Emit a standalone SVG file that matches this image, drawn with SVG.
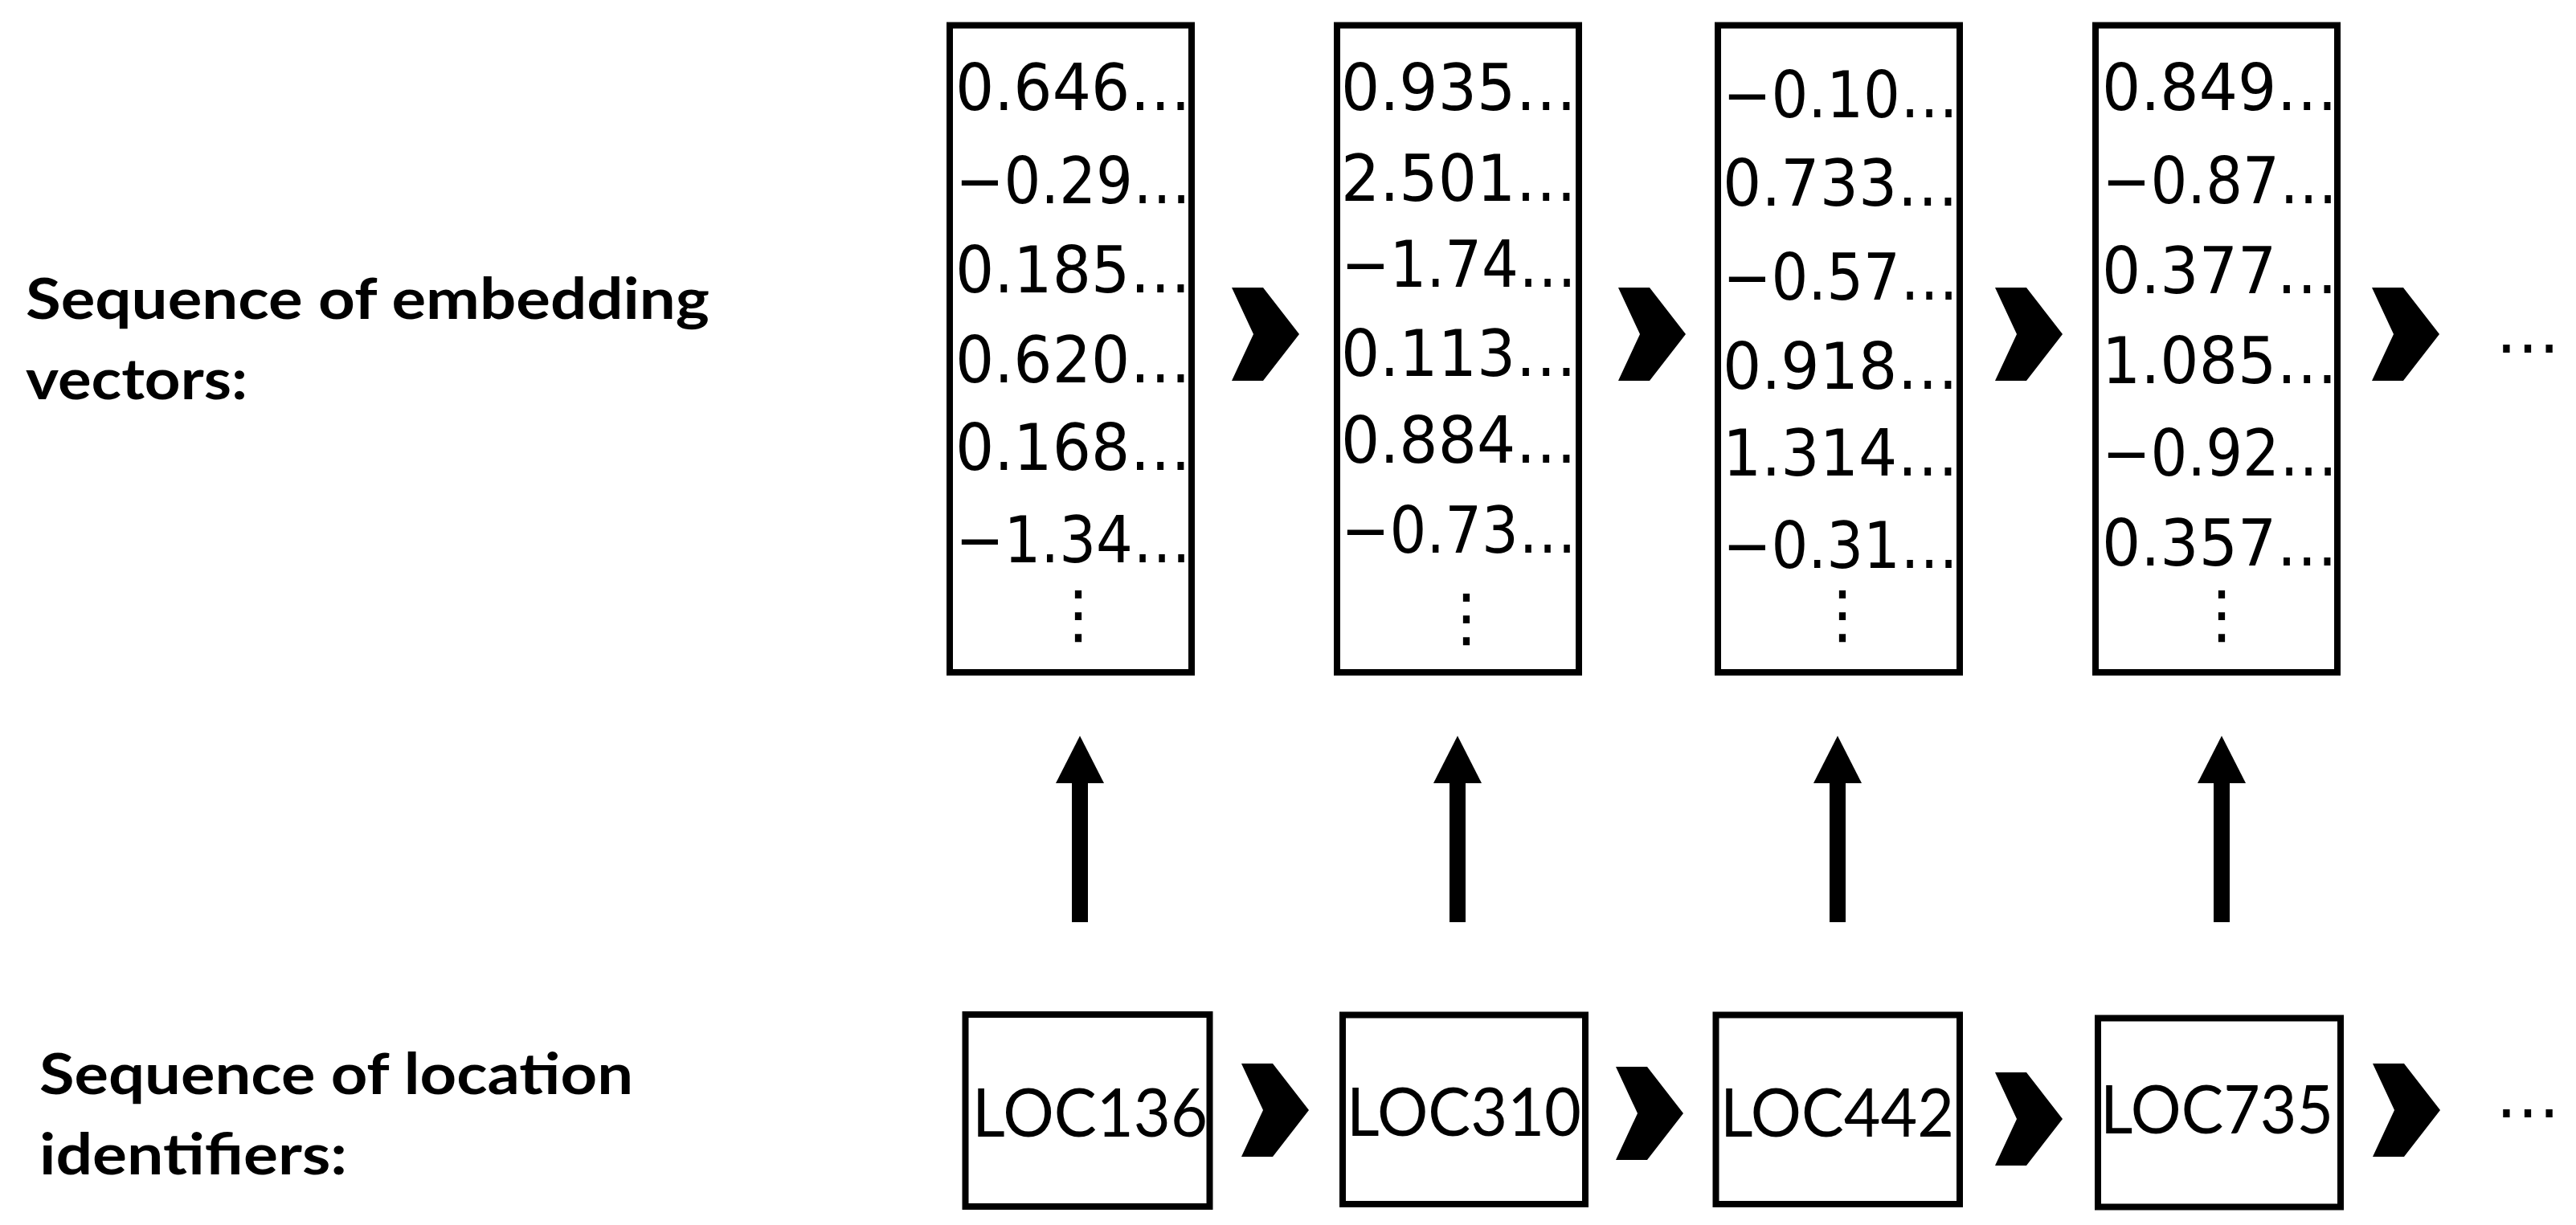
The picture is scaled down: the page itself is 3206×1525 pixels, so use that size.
<svg xmlns="http://www.w3.org/2000/svg" width="3206" height="1525" viewBox="0 0 3206 1525">
  <style>
    .box { fill: #ffffff; stroke: #000000; stroke-width: 8; }
    .val { font-family: "DejaVu Sans", "Liberation Sans", sans-serif; font-size: 80px; fill: #000000; }
    .vdots { font-family: "DejaVu Sans", sans-serif; font-size: 80px; fill: #000000; text-anchor: middle; }
    .loc { font-family: Lato, "Liberation Sans", sans-serif; font-size: 84px; fill: #000000; }
    .lbl { font-family: Lato, "Liberation Sans", sans-serif; font-size: 70px; font-weight: 700; fill: #000000; }
    .chev { fill: #000000; }
    .shaft { stroke: #000000; stroke-width: 20; }
  </style>
  <defs>
    <marker id="head" viewBox="0 0 59 60" markerWidth="59" markerHeight="60" refX="0" refY="30" orient="auto" markerUnits="userSpaceOnUse">
      <path d="M0,0 L59,30 L0,60 Z" fill="#000000"/>
    </marker>
    <polygon id="chevron" points="0,0 39,0 84,58 39,116 0,116 27,58"/>
  </defs>
  <rect x="0" y="0" width="3206" height="1525" fill="#ffffff"/>

  <g id="label-embeddings">
    <text class="lbl" x="32" y="397" textLength="851" lengthAdjust="spacingAndGlyphs">Sequence of embedding</text>
    <text class="lbl" x="32" y="497" textLength="276" lengthAdjust="spacingAndGlyphs">vectors:</text>
  </g>
  <g id="label-locations">
    <text class="lbl" x="49" y="1362" textLength="739" lengthAdjust="spacingAndGlyphs">Sequence of location</text>
    <text class="lbl" x="49" y="1462" textLength="383" lengthAdjust="spacingAndGlyphs">identifiers:</text>
  </g>

  <g id="vec1">
    <rect class="box" x="1182" y="31.5" width="301" height="805.5"/>
    <text class="val" x="1189" y="137" textLength="293" lengthAdjust="spacingAndGlyphs">0.646…</text>
    <text class="val" x="1189" y="253" textLength="293" lengthAdjust="spacingAndGlyphs">−0.29…</text>
    <text class="val" x="1189" y="364" textLength="293" lengthAdjust="spacingAndGlyphs">0.185…</text>
    <text class="val" x="1189" y="476" textLength="293" lengthAdjust="spacingAndGlyphs">0.620…</text>
    <text class="val" x="1189" y="585" textLength="293" lengthAdjust="spacingAndGlyphs">0.168…</text>
    <text class="val" x="1189" y="700" textLength="293" lengthAdjust="spacingAndGlyphs">−1.34…</text>
    <text class="vdots" x="1342" y="792">⋮</text>
  </g>
  <g id="vec2">
    <rect class="box" x="1664" y="31.5" width="301" height="805.5"/>
    <text class="val" x="1669" y="137" textLength="293" lengthAdjust="spacingAndGlyphs">0.935…</text>
    <text class="val" x="1669" y="250" textLength="293" lengthAdjust="spacingAndGlyphs">2.501…</text>
    <text class="val" x="1669" y="357" textLength="293" lengthAdjust="spacingAndGlyphs">−1.74…</text>
    <text class="val" x="1669" y="468" textLength="293" lengthAdjust="spacingAndGlyphs">0.113…</text>
    <text class="val" x="1669" y="576" textLength="293" lengthAdjust="spacingAndGlyphs">0.884…</text>
    <text class="val" x="1669" y="688" textLength="293" lengthAdjust="spacingAndGlyphs">−0.73…</text>
    <text class="vdots" x="1825" y="796">⋮</text>
  </g>
  <g id="vec3">
    <rect class="box" x="2138" y="31.5" width="301" height="805.5"/>
    <text class="val" x="2144" y="146" textLength="293" lengthAdjust="spacingAndGlyphs">−0.10…</text>
    <text class="val" x="2144" y="256" textLength="293" lengthAdjust="spacingAndGlyphs">0.733…</text>
    <text class="val" x="2144" y="373" textLength="293" lengthAdjust="spacingAndGlyphs">−0.57…</text>
    <text class="val" x="2144" y="484" textLength="293" lengthAdjust="spacingAndGlyphs">0.918…</text>
    <text class="val" x="2144" y="592" textLength="293" lengthAdjust="spacingAndGlyphs">1.314…</text>
    <text class="val" x="2144" y="707" textLength="293" lengthAdjust="spacingAndGlyphs">−0.31…</text>
    <text class="vdots" x="2293" y="792">⋮</text>
  </g>
  <g id="vec4">
    <rect class="box" x="2608" y="31.5" width="301" height="805.5"/>
    <text class="val" x="2616" y="137" textLength="293" lengthAdjust="spacingAndGlyphs">0.849…</text>
    <text class="val" x="2616" y="253" textLength="293" lengthAdjust="spacingAndGlyphs">−0.87…</text>
    <text class="val" x="2616" y="365" textLength="293" lengthAdjust="spacingAndGlyphs">0.377…</text>
    <text class="val" x="2616" y="477" textLength="293" lengthAdjust="spacingAndGlyphs">1.085…</text>
    <text class="val" x="2616" y="592" textLength="293" lengthAdjust="spacingAndGlyphs">−0.92…</text>
    <text class="val" x="2616" y="704" textLength="293" lengthAdjust="spacingAndGlyphs">0.357…</text>
    <text class="vdots" x="2765" y="792">⋮</text>
  </g>
  <g id="vec-more">
    <text class="val" x="3106" y="439">…</text>
  </g>

  <g id="loc1">
    <rect class="box" x="1201.5" y="1263" width="304" height="239"/>
    <text class="loc" x="1210" y="1415" textLength="293" lengthAdjust="spacingAndGlyphs">LOC136</text>
  </g>
  <g id="loc2">
    <rect class="box" x="1671" y="1263.5" width="302" height="235.5"/>
    <text class="loc" x="1676" y="1414" textLength="292" lengthAdjust="spacingAndGlyphs">LOC310</text>
  </g>
  <g id="loc3">
    <rect class="box" x="2135.5" y="1263.5" width="303.5" height="235.5"/>
    <text class="loc" x="2141" y="1415" textLength="291" lengthAdjust="spacingAndGlyphs">LOC442</text>
  </g>
  <g id="loc4">
    <rect class="box" x="2611" y="1267.5" width="302" height="235"/>
    <text class="loc" x="2614" y="1411" textLength="290" lengthAdjust="spacingAndGlyphs">LOC735</text>
  </g>
  <g id="loc-more">
    <text class="val" x="3106" y="1391">…</text>
  </g>

  <g id="connectors">
    <use href="#chevron" class="chev" x="1533" y="358"/>
    <use href="#chevron" class="chev" x="2014" y="358"/>
    <use href="#chevron" class="chev" x="2483" y="358"/>
    <use href="#chevron" class="chev" x="2952" y="358"/>
    <use href="#chevron" class="chev" x="1545" y="1324"/>
    <use href="#chevron" class="chev" x="2011" y="1328"/>
    <use href="#chevron" class="chev" x="2483" y="1335"/>
    <use href="#chevron" class="chev" x="2953" y="1324"/>
    <line class="shaft" x1="1344" y1="1148" x2="1344" y2="975" marker-end="url(#head)"/>
    <line class="shaft" x1="1814" y1="1148" x2="1814" y2="975" marker-end="url(#head)"/>
    <line class="shaft" x1="2287" y1="1148" x2="2287" y2="975" marker-end="url(#head)"/>
    <line class="shaft" x1="2765" y1="1148" x2="2765" y2="975" marker-end="url(#head)"/>
  </g>
</svg>
